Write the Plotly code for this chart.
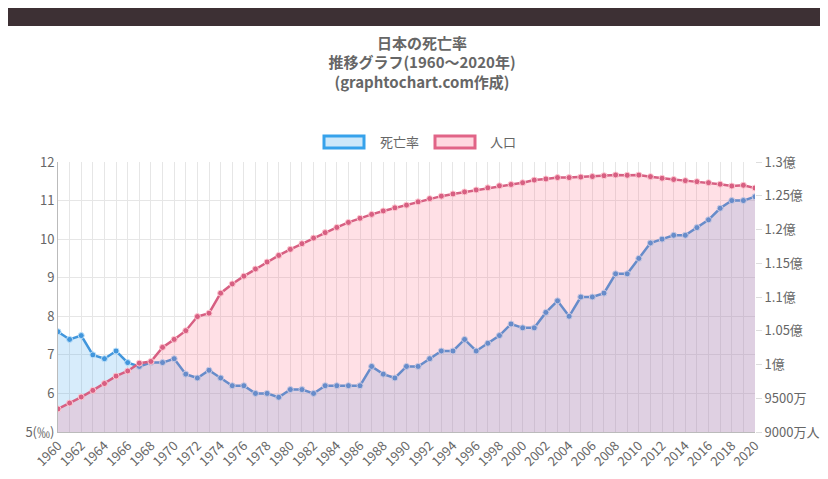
import plotly.graph_objects as go

years = list(range(1960, 2021))
death_rate = [7.6, 7.4, 7.5, 7.0, 6.9, 7.1, 6.8, 6.7, 6.8, 6.8,
              6.9, 6.5, 6.4, 6.6, 6.4, 6.2, 6.2, 6.0, 6.0, 5.9,
              6.1, 6.1, 6.0, 6.2, 6.2, 6.2, 6.2, 6.7, 6.5, 6.4,
              6.7, 6.7, 6.9, 7.1, 7.1, 7.4, 7.1, 7.3, 7.5, 7.8,
              7.7, 7.7, 8.1, 8.4, 8.0, 8.5, 8.5, 8.6, 9.1, 9.1,
              9.5, 9.9, 10.0, 10.1, 10.1, 10.3, 10.5, 10.8, 11.0, 11.0,
              11.1]
population = [93.42, 94.29, 95.18, 96.16, 97.18, 98.28, 99.04, 100.20, 100.45, 102.54,
              103.72, 105.01, 107.10, 107.60, 110.57, 111.94, 113.09, 114.15, 115.19, 116.16,
              117.06, 117.90, 118.73, 119.54, 120.31, 121.05, 121.66, 122.24, 122.75, 123.21,
              123.61, 124.10, 124.57, 124.94, 125.27, 125.57, 125.86, 126.17, 126.47, 126.67,
              126.93, 127.32, 127.49, 127.69, 127.69, 127.77, 127.85, 127.97, 128.08, 128.03,
              128.06, 127.83, 127.59, 127.41, 127.24, 127.09, 126.93, 126.71, 126.44, 126.55,
              126.15]
left_ticks = [5, 6, 7, 8, 9, 10, 11, 12]
left_labels = ["5(‰)", "6", "7", "8", "9", "10", "11", "12"]
right_ticks = [90, 95, 100, 105, 110, 115, 120, 125, 130]
right_labels = ["9000万人", "9500万", "1億", "1.05億", "1.1億", "1.15億", "1.2億", "1.25億", "1.3億"]
legend_names = ["死亡率", "人口"]

blue = "rgb(54,162,235)"
red = "rgb(225,100,135)"
red_line = "rgb(215,95,130)"
blue_line = "rgb(65,150,220)"

fig = go.Figure()
fig.add_trace(go.Scatter(
    x=years, y=population, yaxis="y2", mode="lines+markers", showlegend=False,
    line=dict(color=red_line, width=2.5), fill="tozeroy",
    fillcolor="rgba(255,99,132,0.2)",
    marker=dict(size=6, color=red_line, line=dict(color="rgb(255,200,210)", width=1))))
fig.add_trace(go.Scatter(
    x=years, y=death_rate, mode="lines+markers", showlegend=False,
    line=dict(color=blue_line, width=2.5), fill="tozeroy",
    fillcolor="rgba(54,162,235,0.2)",
    marker=dict(size=6, color=blue_line, line=dict(color="rgb(190,225,250)", width=1))))

W, H, L, T = 697, 270, 50, 154
def px(x):
    return (x - L) / W
def py(y):
    return (T + H - y) / H

shapes = [dict(type="rect", xref="paper", yref="paper", x0=px(0), x1=px(828),
               y0=py(18), y1=py(0), fillcolor="#3d3034", line=dict(width=0))]
annotations = []
for (x0, tx), c, fc, name in zip([(316, 370), (427, 480)], [blue, red],
                                 ["rgba(54,162,235,0.25)", "rgba(255,99,132,0.25)"], legend_names):
    shapes.append(dict(type="rect", xref="paper", yref="paper", x0=px(x0), x1=px(x0 + 40),
                       y0=py(140), y1=py(128), fillcolor=fc, line=dict(color=c, width=3)))
    annotations.append(dict(text=name, xref="paper", yref="paper", x=px(tx), y=py(134),
                            xanchor="left", yanchor="middle", showarrow=False,
                            font=dict(size=13, color="#666")))

font = "Noto Sans CJK JP, Noto Sans, sans-serif"
fig.update_layout(
    width=828, height=479, showlegend=False,
    margin=dict(l=L, r=828 - L - W, t=T, b=479 - T - H, autoexpand=False),
    paper_bgcolor="white", plot_bgcolor="white",
    font=dict(family=font, color="#666", size=13),
    title=dict(text="<b>日本の死亡率<br>推移グラフ(1960～2020年)<br>(graphtochart.com作成)</b>",
               x=0.5, xanchor="center", y=0.915, yanchor="top",
               font=dict(size=15, color="#666")),
    xaxis=dict(range=[1960, 2020], tickvals=list(range(1960, 2021, 2)), tickangle=-45,
               showgrid=True, gridcolor="#e6e6e6", showline=True, linecolor="#bbb",
               minor=dict(dtick=1, showgrid=True, gridcolor="#e6e6e6"),
               tickfont=dict(size=13)),
    yaxis=dict(range=[5, 12], tickvals=left_ticks, ticktext=left_labels,
               showgrid=True, gridcolor="#e6e6e6", showline=True, linecolor="#bbb",
               zeroline=False, tickfont=dict(size=13)),
    yaxis2=dict(range=[90, 130], overlaying="y", side="right", tickvals=right_ticks,
                ticktext=right_labels, showgrid=False, zeroline=False,
                ticks="outside", ticklen=6, tickcolor="#ddd", tickfont=dict(size=13)),
    shapes=shapes, annotations=annotations,
)
fig.write_html("out.html")
